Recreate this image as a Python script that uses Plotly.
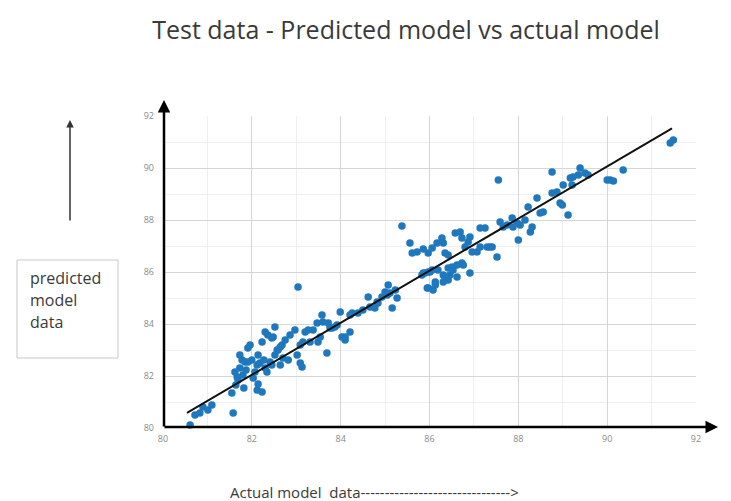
import plotly.graph_objects as go

# Actual (x) vs predicted (y) values
actual = [
    80.61, 80.72, 80.90, 81.01, 81.10, 80.83, 81.58, 81.55, 81.67, 81.73, 81.78, 81.91,
    82.12, 82.18, 82.30, 82.52, 82.36,
    81.73, 81.69, 81.80, 81.85, 81.96, 82.00, 82.07, 82.12, 82.14, 82.23, 82.27, 82.30,
    82.45, 82.52, 82.59, 82.23, 81.82, 81.64, 81.87, 82.03, 82.14, 82.34, 82.41, 82.64,
    82.68, 82.75, 82.82, 82.86, 82.97, 83.02, 83.09, 83.04, 82.57, 82.70, 82.45, 83.09,
    83.13, 82.48, 82.64, 81.62, 81.91,
    83.20, 83.15, 83.38, 83.58, 83.60, 83.54, 83.72, 83.81, 83.92, 83.99, 84.03, 84.10,
    84.21, 84.26, 84.39, 84.50, 83.69, 83.49, 83.47, 83.76, 83.87, 84.10, 84.21, 83.31,
    83.27,
    84.62, 84.66, 84.82, 84.93, 85.00, 85.07, 85.16, 85.23, 84.77, 84.84, 85.05, 85.27,
    85.11, 85.83, 85.90, 86.01, 85.95, 86.13, 86.35, 86.46, 86.53, 86.76, 86.91, 86.62,
    85.86, 85.97, 86.06, 86.19, 86.31, 86.42, 86.51, 86.62, 86.73, 86.42, 86.31, 86.13,
    85.97, 86.08,
    85.38, 85.56, 85.61, 85.72, 85.86, 85.97, 86.06, 86.17, 86.28, 86.31, 86.35, 86.42,
    86.58, 86.69, 86.73, 86.80, 86.87, 86.91, 86.96, 87.07, 87.14, 87.25, 87.36, 87.52,
    87.59, 87.75, 87.86, 87.97, 88.00, 87.14, 87.30, 87.41,
    87.55, 88.76, 89.39, 89.23, 89.35, 89.50, 89.57, 90.00, 90.07, 90.14, 90.36, 91.42,
    91.49, 88.76, 88.94, 89.12, 88.42, 88.22, 88.49, 88.56, 88.15, 88.04, 87.88, 87.66,
    88.31, 88.27, 89.01, 88.87, 89.21, 89.17, 88.99,
]
predicted = [
    80.12, 80.50, 80.81, 80.69, 80.88, 80.58, 80.58, 81.35, 81.96, 82.31, 82.62, 83.08,
    81.46, 82.50, 83.69, 83.88, 83.58,
    82.81, 81.85, 82.04, 82.54, 83.19, 82.62, 82.15, 82.42, 82.81, 83.31, 82.62, 82.31,
    83.46, 82.81, 83.00, 81.38, 81.54, 81.65, 82.23, 81.92, 81.69, 82.15, 82.54, 82.42,
    83.19, 83.38, 82.62, 83.58, 83.77, 82.81, 83.19, 85.42, 83.00, 82.69, 82.42, 82.50,
    82.35, 83.50, 83.12, 82.15, 82.54,
    83.69, 83.31, 83.77, 84.35, 84.08, 83.50, 84.04, 83.85, 83.96, 84.46, 83.50, 83.38,
    83.69, 84.42, 84.42, 84.54, 82.88, 83.31, 84.04, 83.85, 83.88, 83.50, 84.35, 83.31,
    83.77,
    85.04, 84.65, 84.85, 85.04, 85.23, 85.50, 84.62, 85.31, 84.62, 84.81, 85.12, 85.00,
    85.19, 85.88, 85.96, 86.00, 85.38, 85.50, 85.69, 85.88, 86.08, 86.27, 85.96, 85.81,
    85.96, 86.00, 86.08, 86.08, 85.88, 86.15, 86.19, 86.27, 86.35, 85.69, 85.62, 85.62,
    85.38, 85.31,
    87.77, 87.12, 86.73, 86.77, 86.88, 86.73, 86.92, 87.12, 87.31, 87.12, 86.73, 86.65,
    87.50, 87.54, 87.31, 86.96, 87.15, 87.35, 86.77, 86.77, 86.96, 87.69, 86.96, 86.58,
    87.92, 87.81, 88.08, 87.88, 87.23, 87.69, 86.96, 86.96,
    89.54, 89.85, 90.00, 89.65, 89.73, 89.81, 89.73, 89.54, 89.54, 89.50, 89.92, 90.96,
    91.08, 89.04, 88.65, 88.19, 88.85, 88.50, 88.27, 88.31, 88.00, 87.81, 87.73, 87.73,
    87.73, 87.54, 89.35, 89.08, 89.35, 89.62, 88.58,
]

fit_x = [80.54, 91.46]
fit_y = [80.58, 91.52]

x_ticks = [80, 82, 84, 86, 88, 90, 92]
y_ticks = [80, 82, 84, 86, 88, 90, 92]

TITLE = "Test data - Predicted model vs actual model"
Y_LABEL_LINES = ["predicted", "model", "data"]
X_LABEL = "Actual model  data" + "-" * 31 + ">"

FONT = "Open Sans"

fig = go.Figure()
fig.add_trace(go.Scatter(
    x=actual, y=predicted, mode="markers",
    marker=dict(color="#1f78be", size=7.5, line=dict(width=0)),
    showlegend=False, cliponaxis=False,
))
fig.add_trace(go.Scatter(
    x=fit_x, y=fit_y, mode="lines",
    line=dict(color="#111111", width=2),
    showlegend=False,
))

OFF = 8  # page body margin
W, H = 731 - OFF, 501 - OFF
# plot area in screen pixels: x 163..696, y 116..428
L, T = 163 - OFF, 116 - OFF
R = W - (696 - OFF)
B = H - (428 - OFF)
pw, ph = W - L - R, H - T - B

def px(xs):
    return (xs - OFF - L) / pw

def py(ys):
    return (H - B - (ys - OFF)) / ph

axis_common = dict(
    showgrid=True, gridcolor="#d6d6d6", gridwidth=1,
    zeroline=False, showline=False, ticks="",
    tickfont=dict(family=FONT, size=9, color="#8a8a8a"),
    minor=dict(dtick=1, showgrid=True, gridcolor="#efefef", gridwidth=1),
)

fig.update_layout(
    width=W, height=H,
    margin=dict(l=L, r=R, t=T, b=B),
    paper_bgcolor="white", plot_bgcolor="white",
    title=dict(text=TITLE, x=(406 - OFF) / W, xanchor="center", y=1 - (30 - OFF) / H,
               yanchor="middle",
               font=dict(family=FONT, size=25, color="#3a3a3a")),
    xaxis=dict(range=[80, 92], tickvals=x_ticks, ticklabelstandoff=4, **axis_common),
    yaxis=dict(range=[80, 92], tickvals=y_ticks, ticklabelstandoff=8, **axis_common),
    font=dict(family=FONT),
)

annotations = []
# y axis arrow
annotations.append(dict(xref="paper", yref="paper", x=px(164), y=py(100), ax=0, ay=328,
                        text="", showarrow=True,
                        arrowhead=2, arrowsize=1, arrowwidth=2.5, arrowcolor="#000000"))
# x axis arrow
annotations.append(dict(xref="paper", yref="paper", x=px(718), y=py(427), ax=-555, ay=0,
                        text="", showarrow=True,
                        arrowhead=2, arrowsize=1, arrowwidth=2.5, arrowcolor="#000000"))
# left vertical arrow
annotations.append(dict(xref="paper", yref="paper", x=px(70), y=py(120), ax=0, ay=102,
                        text="", showarrow=True,
                        arrowhead=2, arrowsize=1, arrowwidth=1.5, arrowcolor="#333333"))
# y label lines
for i, t in enumerate(Y_LABEL_LINES):
    annotations.append(dict(xref="paper", yref="paper", x=px(28), y=py(278 + 22 * i),
                            text=t, showarrow=False, xanchor="left", yanchor="middle",
                            font=dict(family=FONT, size=16, color="#3a3a3a")))
# x label
annotations.append(dict(xref="paper", yref="paper", x=px(228), y=py(492),
                        text=X_LABEL, showarrow=False, xanchor="left", yanchor="middle",
                        font=dict(family=FONT, size=15, color="#3a3a3a")))
fig.update_layout(annotations=annotations)

fig.add_shape(type="rect", xref="paper", yref="paper",
              x0=px(17), x1=px(118), y0=py(358), y1=py(260),
              line=dict(color="#c8c8c8", width=1), fillcolor="rgba(0,0,0,0)")

fig.write_html("out.html")
